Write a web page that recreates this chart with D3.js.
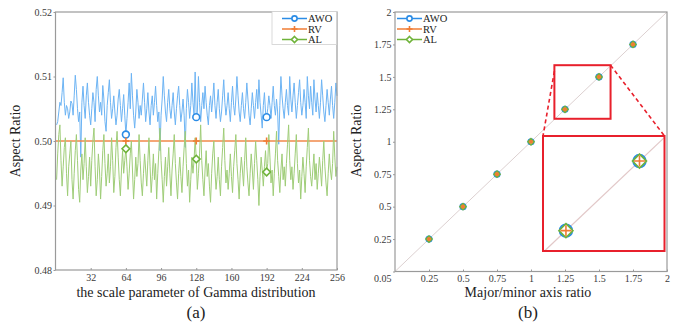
<!DOCTYPE html>
<html lang="en">
<head>
<meta charset="UTF-8">
<title>Aspect Ratio</title>
<style>
  body { margin: 0; background: #fff; }
  svg text { font-family: "Liberation Serif", "DejaVu Serif", serif; }
</style>
</head>
<body>
<svg id="SVG"></svg>
<script src="https://d3js.org/d3.v7.min.js"></script>
<script>
// ---------- data ----------
// (a) offsets from 0.5, in units of 1e-4, for x = 1..256
var awoOffset = [
  25, 30, 45, 60, 55, 75, 98, 60, 40, 55, 50, 35, 45, 62, 58, 40,
  70, 102, 80, 50, 30, 45, -25, 60, 85, 55, 35, 70, 90, 60, 40, 25,
  50, 75, 60, 30, 80, 100, 70, 45, 60, 40, 86, 65, 30, 15, 55, 75,
  95, 60, 35, 50, 70, 45, 25, 40, 65, 80, 55, 30, 50, 72, 40, 10,
  35, 60, 90, 50, 105, 70, 40, 20, 45, 80, 60, 35, 55, 40, 65, 90,
  60, 30, 50, 75, 45, 25, 55, 70, 40, 60, 85, 55, 30, 45, -15, 40,
  65, 100, 70, 45, 30, 60, 80, 50, 35, 55, 75, 45, 25, 50, 70, 85,
  55, 30, 45, 65, 40, -10, 50, 80, 60, 35, 55, 90, 60, 40, 107, 37,
  45, 100, 60, 30, 55, 75, 50, 85, 60, 40, 25, 55, 70, 45, 65, 90,
  55, 35, 60, 80, 50, 30, 45, 70, 95, 60, 40, 55, 75, 50, 30, 60,
  85, 55, 40, 65, 100, 70, 45, 30, 55, 75, 50, 35, 60, 90, 65, 40,
  25, 50, 75, 55, 35, 60, 80, 50, 95, 60, 40, 20, 55, 75, 45, 37,
  50, 70, 55, 35, 60, 85, 55, 40, 65, 45, -5, 55, 100, 70, 50, 35,
  60, 80, 55, 40, 100, 65, 45, 70, 90, 60, 35, 55, 75, 95, 60, 40,
  55, 80, 60, 35, 100, 70, 50, 85, 60, 40, 95, 65, 45, 75, 55, 35,
  60, 95, 70, 45, 30, 55, 80, 60, 40, 65, 85, 55, 35, 60, 90, 70
];
var alOffset = [
  -60, -20, 10, 25, -30, -70, -40, -10, 5, -50, -85, -40, -20, 0, -60, -90,
  -50, -15, 10, -30, -75, -95, -45, -20, -60, -35, 5, -40, -80, -55, -25, -70,
  -30, 0, 20, -40, -85, -60, -20, -45, -90, -55, -15, 10, -35, -70, -50, -20,
  -65, -40, 5, -30, -80, -55, -10, 15, -25, -60, -85, -45, -15, -50, -30, -12,
  -40, -75, -50, -20, 0, -45, -90, -60, -25, -55, -35, 10, -30, -65, -85, -50,
  -20, -45, -70, -30, 5, -40, -80, -55, -20, -60, -35, -90, -50, -15, 20, -30,
  -60, -95, -55, -25, -70, -40, -10, -50, -85, -45, -20, 10, -35, -65, -90, -50,
  -25, -55, -80, -40, -10, 15, -35, -70, -45, -95, -60, -25, -50, -30, 5, -28,
  -75, -50, -20, 25, -30, -60, -85, -45, -15, -55, -35, -70, -95, -50, -20, 0,
  -45, -75, -55, -25, -60, -85, -40, -10, 20, -30, -65, -45, -75, -50, -20, -55,
  -80, -40, -15, 10, -35, -60, -90, -50, -25, -45, -70, -30, 5, -40, -65, -85,
  -50, -20, -45, -75, -35, 0, -30, -60, -100, -55, -25, -45, -70, -40, -15, -48,
  -35, 10, -25, -65, -45, -85, -50, -20, 15, -30, -55, -80, -45, -20, -60, -40,
  -70, -35, -5, 25, -30, -60, -40, -75, -50, -20, 10, -35, -65, -45, -90, -55,
  -25, -50, -80, -40, -10, 20, -30, -55, -70, -45, -20, -60, -35, -75, -50, -25,
  -45, -70, -30, 0, -40, -65, -85, -50, -20, -45, -60, -35, 15, -25, -55, -40
];
var rvValue = 0.5;
var markerX = [64, 128, 192];
var aTicksX = [32, 64, 96, 128, 160, 192, 224, 256];
var aTicksY = [0.48, 0.49, 0.50, 0.51, 0.52];

// (b)
var ratios = [0.25, 0.5, 0.75, 1, 1.25, 1.5, 1.75];
var bAWO = [0.25, 0.5, 0.75, 1, 1.25, 1.5, 1.75];
var bRV  = [0.25, 0.5, 0.75, 1, 1.25, 1.5, 1.75];
var bAL  = [0.25, 0.5, 0.75, 1, 1.25, 1.5, 1.75];
var bTicks = [0.25, 0.5, 0.75, 1, 1.25, 1.5, 1.75, 2];
var zoomX = [1.172, 1.585];
var zoomY = [1.177, 1.59];
var zoomIdx = [4, 5];

var names = ["AWO", "RV", "AL"];

// ---------- setup ----------
var width = 685, height = 322;
var cBlue = "#2b8ce6", cBlueLine = "#6db4f4";
var cOrange = "#f07c34", cOrangeLine = "#f0894a";
var cGreen = "#6fb33a", cGreenLine = "#9fcd78";
var cRed = "#e8202c";
var frame = "#9a9a9a";

var svg = d3.select("#SVG").attr("width", width).attr("height", height);

var awo = awoOffset.map((d, i) => ({ x: i + 1, y: 0.5 + d / 10000 }));
var al = alOffset.map((d, i) => ({ x: i + 1, y: 0.5 + d / 10000 }));

function drawMarker(g, type, cx, cy, s, color) {
  if (type === "AWO") {
    g.append("circle").attr("cx", cx).attr("cy", cy).attr("r", s)
      .attr("fill", "white").attr("stroke", color).attr("stroke-width", 1.6);
  } else if (type === "RV") {
    g.append("path")
      .attr("d", `M${cx - s},${cy}H${cx + s}M${cx},${cy - s}V${cy + s}`)
      .attr("stroke", color).attr("stroke-width", 1.6);
  } else {
    g.append("path")
      .attr("d", `M${cx},${cy - s}L${cx + s},${cy}L${cx},${cy + s}L${cx - s},${cy}Z`)
      .attr("fill", "white").attr("stroke", color).attr("stroke-width", 1.6);
  }
}

function drawFrame(g, x0, x1, y0, y1) {
  g.append("rect").attr("x", x0).attr("y", y1).attr("width", x1 - x0).attr("height", y0 - y1)
    .attr("fill", "none").attr("stroke", frame).attr("stroke-width", 1.2);
}

function styleAxis(ax) {
  ax.select(".domain").remove();
  ax.selectAll("line").attr("stroke", frame);
  ax.selectAll("text").attr("fill", "#3a3a3a").style("font-size", "10px");
}

function legend(g, lx, ly, boxX, boxW, colors, lineColors, drawBox) {
  if (drawBox) {
    g.append("rect").attr("x", boxX).attr("y", ly - 7).attr("width", boxW).attr("height", 33)
      .attr("fill", "white").attr("stroke", "#d0d0d0").attr("stroke-width", 0.8);
  }
  names.forEach((n, i) => {
    var y = ly + i * 10.5;
    g.append("line").attr("x1", lx).attr("x2", lx + 25).attr("y1", y).attr("y2", y)
      .attr("stroke", lineColors[i]).attr("stroke-width", 1.5);
    drawMarker(g, n, lx + 12.5, y, n === "AWO" ? 2.6 : 3, colors[i]);
    g.append("text").attr("x", lx + 26).attr("y", y + 3.5).text(n)
      .style("font-size", "10.5px").attr("fill", "#222");
  });
}

// ---------- (a) ----------
var ga = svg.append("g");
var xa = d3.scaleLinear().domain([0, 256]).range([55.5, 337]);
var ya = d3.scaleLinear().domain([0.48, 0.52]).range([270, 12]);

var lineA = d3.line().x(d => xa(d.x)).y(d => ya(d.y));
ga.append("path").datum(awo).attr("d", lineA).attr("fill", "none")
  .attr("stroke", cBlueLine).attr("stroke-width", 1);
ga.append("path").datum([{ x: 0, y: rvValue }, { x: 256, y: rvValue }]).attr("d", lineA)
  .attr("fill", "none").attr("stroke", cOrangeLine).attr("stroke-width", 1.3);
ga.append("path").datum(al).attr("d", lineA).attr("fill", "none")
  .attr("stroke", cGreenLine).attr("stroke-width", 1);

markerX.forEach(x => {
  drawMarker(ga, "AWO", xa(x), ya(awo[x - 1].y), 3.4, cBlue);
  drawMarker(ga, "RV", xa(x), ya(rvValue), 3.4, cOrange);
  drawMarker(ga, "AL", xa(x), ya(al[x - 1].y), 3.8, cGreen);
});

drawFrame(ga, 55.5, 337, 270, 12);

var axA = ga.append("g").attr("transform", "translate(0,270)")
  .call(d3.axisBottom(xa).tickValues(aTicksX).tickSize(-2).tickPadding(4));
styleAxis(axA);
var ayA = ga.append("g").attr("transform", "translate(55.5,0)")
  .call(d3.axisLeft(ya).tickValues(aTicksY).tickFormat(d3.format(".2f")).tickSize(2).tickPadding(1.5));
styleAxis(ayA);

legend(ga, 282, 18.5, 272, 64.5, [cBlue, cOrange, cGreen], [cBlue, cOrange, cGreen], true);

ga.append("text").attr("transform", "translate(20,141) rotate(-90)").attr("text-anchor", "middle")
  .text("Aspect Ratio").style("font-size", "14px").attr("fill", "#222");
ga.append("text").attr("x", 196).attr("y", 297).attr("text-anchor", "middle")
  .text("the scale parameter of Gamma distribution").style("font-size", "14px").attr("fill", "#222");
ga.append("text").attr("x", 196).attr("y", 318).attr("text-anchor", "middle")
  .text("(a)").style("font-size", "17px").attr("fill", "#222");

// ---------- (b) ----------
var gb = svg.append("g");
var xb = d3.scaleLinear().domain([0, 2]).range([395, 667]);
var yb = d3.scaleLinear().domain([0, 2]).range([271.5, 12]);

gb.append("line").attr("x1", xb(0)).attr("y1", yb(0)).attr("x2", xb(2)).attr("y2", yb(2))
  .attr("stroke", "#dcd0d0").attr("stroke-width", 1);

ratios.forEach((r, i) => {
  drawMarker(gb, "AWO", xb(r), yb(bAWO[i]), 2.8, cBlue);
  drawMarker(gb, "AL", xb(r), yb(bAL[i]), 3, cGreen);
  gb.append("circle").attr("cx", xb(r)).attr("cy", yb(bRV[i])).attr("r", 2.1).attr("fill", cOrange);
});

// small zoom rect and connectors
var sx0 = xb(zoomX[0]), sx1 = xb(zoomX[1]), sy0 = yb(zoomY[0]), sy1 = yb(zoomY[1]);
var bx0 = 543, bx1 = 664.5, by0 = 251, by1 = 136;
gb.append("line").attr("x1", sx0).attr("y1", sy1 + 6).attr("x2", bx0).attr("y2", by1)
  .attr("stroke", cRed).attr("stroke-width", 1.6).attr("stroke-dasharray", "4,3");
gb.append("line").attr("x1", sx1).attr("y1", sy1).attr("x2", bx1).attr("y2", by1)
  .attr("stroke", cRed).attr("stroke-width", 1.6).attr("stroke-dasharray", "4,3");
gb.append("rect").attr("x", sx0).attr("y", sy1).attr("width", sx1 - sx0).attr("height", sy0 - sy1)
  .attr("fill", "none").attr("stroke", cRed).attr("stroke-width", 2);

// inset
var xi = d3.scaleLinear().domain(zoomX).range([bx0, bx1]);
var yi = d3.scaleLinear().domain(zoomY).range([by0, by1]);
gb.append("rect").attr("x", bx0).attr("y", by1).attr("width", bx1 - bx0).attr("height", by0 - by1)
  .attr("fill", "white");
var lo = Math.max(zoomX[0], zoomY[0]), hi = Math.min(zoomX[1], zoomY[1]);
gb.append("line").attr("x1", xi(lo)).attr("y1", yi(lo)).attr("x2", xi(hi)).attr("y2", yi(hi))
  .attr("stroke", "#e2c8c8").attr("stroke-width", 1.2);
zoomIdx.forEach(i => {
  drawMarker(gb, "AWO", xi(ratios[i]), yi(bAWO[i]), 6, cBlue);
  drawMarker(gb, "AL", xi(ratios[i]), yi(bAL[i]), 7, cGreen);
  drawMarker(gb, "RV", xi(ratios[i]), yi(bRV[i]), 5.5, cOrange);
});
gb.selectAll("circle").filter(function () { return +d3.select(this).attr("r") === 6; })
  .attr("fill", "#f9c79f").attr("stroke-width", 2.4);
gb.append("rect").attr("x", bx0).attr("y", by1).attr("width", bx1 - bx0).attr("height", by0 - by1)
  .attr("fill", "none").attr("stroke", cRed).attr("stroke-width", 2);

drawFrame(gb, 395, 667, 271.5, 12);

var axB = gb.append("g").attr("transform", "translate(0,271.5)")
  .call(d3.axisBottom(xb).tickValues(bTicks).tickSize(-2).tickPadding(3.5).tickFormat(d3.format("")));
styleAxis(axB);
var ayB = gb.append("g").attr("transform", "translate(395,0)")
  .call(d3.axisLeft(yb).tickValues([0].concat(bTicks)).tickSize(2).tickPadding(1.5)
    .tickFormat(d => d === 0 ? "0.05" : d3.format("")(d)));
styleAxis(ayB);
ayB.selectAll(".tick").filter(d => d === 0).select("text").attr("dy", "1.0em");

legend(gb, 397, 18.5, 395, 50, [cBlue, cOrange, cGreen], [cBlue, cOrange, cGreen], false);

gb.append("text").attr("transform", "translate(361,141) rotate(-90)").attr("text-anchor", "middle")
  .text("Aspect Ratio").style("font-size", "14px").attr("fill", "#222");
gb.append("text").attr("x", 528).attr("y", 297).attr("text-anchor", "middle")
  .text("Major/minor axis ratio").style("font-size", "14px").attr("fill", "#222");
gb.append("text").attr("x", 528).attr("y", 318).attr("text-anchor", "middle")
  .text("(b)").style("font-size", "17px").attr("fill", "#222");
</script>
</body>
</html>
